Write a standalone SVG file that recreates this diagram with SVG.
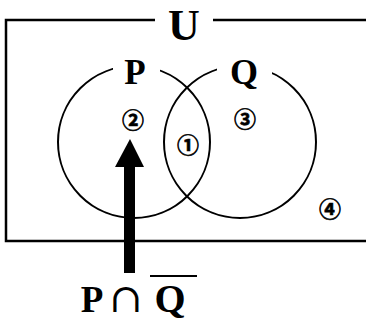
<svg xmlns="http://www.w3.org/2000/svg" width="366" height="320" viewBox="0 0 366 320">
  <style>
    .line { fill: none; stroke: #000; stroke-width: 2.5; }
    .circ { fill: none; stroke: #000; stroke-width: 2; }
    .lbl { font-family: "Liberation Serif", "DejaVu Serif", serif; font-weight: bold; fill: #000; text-anchor: middle; }
    .num { font-family: "Noto Sans CJK JP", "DejaVu Sans", sans-serif; font-weight: bold; font-size: 22px; fill: #000; stroke: #000; stroke-width: 0.6; text-anchor: middle; dominant-baseline: central; }
    .mask { fill: #fff; stroke: none; }
  </style>
  <rect width="366" height="320" fill="#fff"/>
  <g id="universe">
    <path class="line" d="M155,20 H6 V241 H366 M213,20 H366"/>
    <text class="lbl" x="184" y="40" font-size="44">U</text>
  </g>
  <g id="P">
    <circle class="circ" cx="134" cy="142" r="76"/>
  </g>
  <g id="Q">
    <circle class="circ" cx="240" cy="142" r="76"/>
  </g>
  <rect class="mask" x="113" y="55" width="47" height="30"/>
  <rect class="mask" x="217" y="55" width="55" height="30"/>
  <text class="lbl" x="135" y="84" font-size="35">P</text>
  <text class="lbl" x="244" y="84" font-size="36">Q</text>
  <g id="region1"><text class="num" x="188" y="143">①</text></g>
  <g id="region2"><text class="num" x="133" y="118">②</text></g>
  <g id="region3"><text class="num" x="245" y="117">③</text></g>
  <g id="region4"><text class="num" x="330" y="207">④</text></g>
  <g id="connectors">
    <rect x="124" y="164" width="11" height="109" fill="#000"/>
    <polygon points="130,139 144,167 115,167" fill="#000"/>
  </g>
  <g id="label">
    <text class="lbl" x="92" y="312" font-size="37">P</text>
    <text x="126" y="312" font-size="40" font-family="DejaVu Serif, Liberation Serif, serif" text-anchor="middle" fill="#000">∩</text>
    <text class="lbl" x="170" y="312" font-size="40">Q</text>
    <line x1="150" y1="276" x2="197" y2="276" stroke="#000" stroke-width="2"/>
  </g>
</svg>
